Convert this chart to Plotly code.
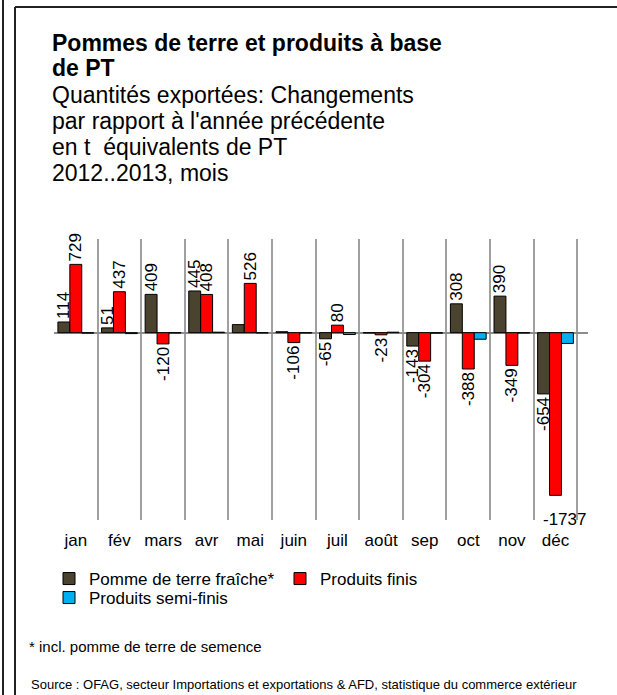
import plotly.graph_objects as go

months = ["jan", "fév", "mars", "avr", "mai", "juin", "juil", "août", "sep", "oct", "nov", "déc"]
fraiche = [114, 51, 409, 445, 86, 10, -65, -3, -143, 308, 390, -654]
finis = [729, 437, -120, 408, 526, -106, 80, -23, -304, -388, -349, -1737]
semi = [-5, -10, -3, 5, -3, -3, -20, 5, -5, -70, -3, -115]
show_fraiche = [True, True, True, True, False, False, True, False, True, True, True, True]
show_finis = [True, True, True, True, True, True, True, True, True, True, True, False]

series_names = ["Pomme de terre fraîche*", "Produits finis", "Produits semi-finis"]
colors = ["#4a4330", "#ff0000", "#00b0f0"]

FONT = "Liberation Sans, Arial, sans-serif"

W, H = 617, 695
L, R, T, B = 54, 29, 239, 175
PW, PH = W - L - R, H - T - B


def px(x):
    return (x - L) / PW


def py(y):
    return (H - B - y) / PH


fig = go.Figure()
fig.add_bar(x=months, y=fraiche, name=series_names[0], legend="legend",
            marker=dict(color=colors[0], line=dict(color="black", width=1)),
            text=[str(v) if s else "" for v, s in zip(fraiche, show_fraiche)])
fig.add_bar(x=months, y=finis, name=series_names[1], legend="legend",
            marker=dict(color=colors[1], line=dict(color="black", width=1)),
            text=[str(v) if s else "" for v, s in zip(finis, show_finis)])
fig.add_bar(x=months, y=semi, name=series_names[2], legend="legend2",
            marker=dict(color=colors[2], line=dict(color="black", width=1)))
fig.update_traces(selector=dict(type="bar"), textposition="outside", textangle=-90,
                  textfont=dict(size=17, color="black", family=FONT), constraintext="none", cliponaxis=False)

# the largest bar's value is written horizontally below the plot
for m, v, s in zip(months, finis, show_finis):
    if not s:
        fig.add_annotation(x=m, y=v, text=str(v), showarrow=False, xshift=9, yshift=-24,
                           font=dict(size=17, color="black", family=FONT), xref="x", yref="y")

title_lines = [
    ("<b>Pommes de terre et produits à base</b>", 43),
    ("<b>de PT</b>", 68),
    ("Quantités exportées: Changements", 95),
    ("par rapport à l'année précédente", 121),
    ("en t  équivalents de PT", 147),
    ("2012..2013, mois", 173),
]
for txt, yy in title_lines:
    fig.add_annotation(x=px(50), y=py(yy), xref="paper", yref="paper", text=txt, showarrow=False,
                       xanchor="left", yanchor="middle", font=dict(size=23, color="black", family=FONT))

fig.add_annotation(x=px(27), y=py(646), xref="paper", yref="paper", text="* incl. pomme de terre de semence",
                   showarrow=False, xanchor="left", yanchor="middle", font=dict(size=15, color="black", family=FONT))
fig.add_annotation(x=px(29), y=py(684), xref="paper", yref="paper",
                   text="Source : OFAG, secteur Importations et exportations & AFD, statistique du commerce extérieur",
                   showarrow=False, xanchor="left", yanchor="middle", font=dict(size=13, color="black", family=FONT))

# frames
fig.add_shape(type="line", xref="paper", yref="paper", x0=px(3), x1=px(3), y0=py(-5), y1=py(700),
              line=dict(color="#222", width=2))
fig.add_shape(type="line", xref="paper", yref="paper", x0=px(15), x1=px(15), y0=py(7), y1=py(700),
              line=dict(color="#222", width=2))
fig.add_shape(type="line", xref="paper", yref="paper", x0=px(15), x1=px(625), y0=py(7), y1=py(7),
              line=dict(color="#222", width=2))

legend_common = dict(orientation="h", xanchor="left", yanchor="middle",
                     font=dict(size=17, family=FONT), entrywidth=186, entrywidthmode="pixels",
                     tracegroupgap=0, itemclick=False, bgcolor="rgba(0,0,0,0)")

fig.update_layout(
    width=W, height=H,
    margin=dict(l=L, r=R, t=T, b=B, autoexpand=False),
    paper_bgcolor="white", plot_bgcolor="white",
    barmode="group", bargap=0.18, bargroupgap=0,
    font=dict(family=FONT, color="black"),
    showlegend=True,
    legend=dict(x=px(49), y=py(579), **legend_common),
    legend2=dict(x=px(49), y=py(598), **legend_common),
    xaxis=dict(type="category", tickson="boundaries", showgrid=True, gridcolor="#a0a0a0", gridwidth=1.5,
               ticks="", showline=False, tickangle=0, ticklabelstandoff=8,
               tickfont=dict(size=17, family=FONT), fixedrange=True),
    yaxis=dict(range=[-2000, 1000], showgrid=False, showticklabels=False, zeroline=True,
               zerolinecolor="#8c8c8c", zerolinewidth=2, fixedrange=True),
)

fig.write_html("out.html", config=dict(displayModeBar=False),
               post_script="document.body.style.margin='0';document.body.style.overflow='hidden';")
